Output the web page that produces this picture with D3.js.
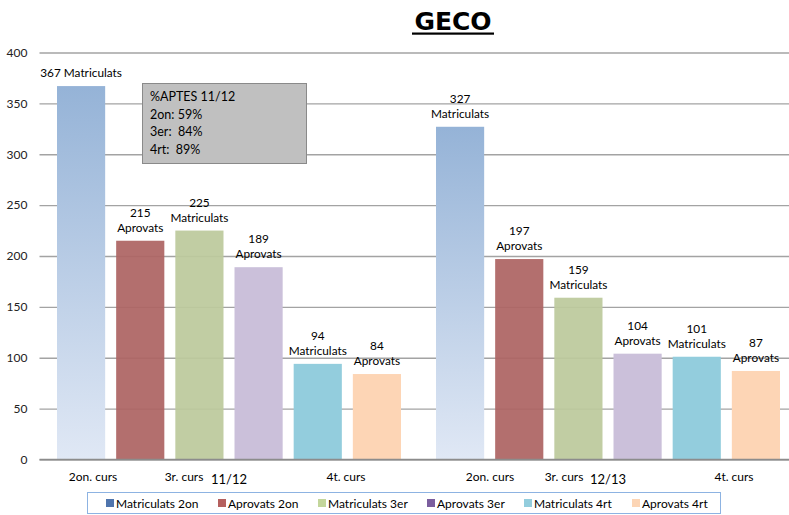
<!DOCTYPE html>
<html>
<head>
<meta charset="utf-8">
<script src="https://cdn.jsdelivr.net/npm/d3@7"></script>
<style>
  body { margin: 0; background: #fff; }
  text { font-family: Lato, "Liberation Sans", sans-serif; }
</style>
</head>
<body>
<div id="graph"></div>
<script>
// data
const categories = ["11/12", "12/13"];
const series = ["Matriculats 2on", "Aprovats 2on", "Matriculats 3er", "Aprovats 3er", "Matriculats 4rt", "Aprovats 4rt"];
const values1112 = [367, 215, 225, 189, 94, 84];
const values1213 = [327, 197, 159, 104, 101, 87];
const courseLabels = ["2on. curs", "3r. curs", "4t. curs"];
const yTicks = [0, 50, 100, 150, 200, 250, 300, 350, 400];
const noteLines = ["%APTES 11/12", "2on: 59%", "3er:  84%", "4rt:  89%"];

const barColors = ["url(#blueGrad)", "#ad6463", "#bcc99c", "#cbc0da", "#93cddd", "#fdd5b5"];
const legendColors = ["#4f75ad", "#b5605e", "#c3d69b", "#7b5e9e", "#93cddd", "#fcd5b5"];

const width = 789, height = 515;
const plot = {left: 39.5, right: 797.5, top: 52.5, bottom: 459.5};

const svg = d3.select("#graph")
    .append("svg")
    .attr("width", width)
    .attr("height", height);

const defs = svg.append("defs");
const grad = defs.append("linearGradient")
    .attr("id", "blueGrad")
    .attr("x1", 0).attr("y1", 0).attr("x2", 0).attr("y2", 1);
grad.append("stop").attr("offset", "0%").attr("stop-color", "#95b3d7");
grad.append("stop").attr("offset", "100%").attr("stop-color", "#e0e8f5");

const y = d3.scaleLinear()
    .domain([0, 400])
    .range([plot.bottom, plot.top]);

const x0 = d3.scaleBand()
    .domain(categories)
    .range([plot.left, plot.right]);

const x1 = d3.scaleBand()
    .domain(series)
    .range([17.5, x0.bandwidth() - 17.5])
    .paddingInner(0.186)
    .paddingOuter(0);

// gridlines
const yAxis = svg.append("g")
    .attr("transform", "translate(" + plot.left + ",0)")
    .call(d3.axisLeft(y).tickValues(yTicks).tickSize(-(width - plot.left)).tickPadding(12));
yAxis.select(".domain").remove();
yAxis.selectAll(".tick line")
    .attr("stroke", "#a3a3a3")
    .attr("stroke-width", 1.3);
yAxis.selectAll(".tick text")
    .style("font-size", "12px")
    .attr("fill", "#222");

const data = [values1112, values1213];

// bars
const groups = svg.selectAll(".grp")
    .data(categories)
    .enter().append("g")
    .attr("class", "grp")
    .attr("transform", function(d) { return "translate(" + x0(d) + ",0)"; });

groups.selectAll("rect")
    .data(function(d, c) { return data[c].map(function(v, i) { return {s: series[i], v: v, i: i}; }); })
    .enter().append("rect")
    .attr("x", function(d) { return x1(d.s); })
    .attr("width", x1.bandwidth())
    .attr("y", function(d) { return y(d.v); })
    .attr("height", function(d) { return y(0) - y(d.v); })
    .attr("fill", function(d) { return barColors[d.i]; })
    .attr("fill-opacity", function(d) { return (d.i === 1 || d.i === 2) ? 0.93 : 1; });

// axis line at zero
svg.append("line")
    .attr("x1", plot.left).attr("x2", width)
    .attr("y1", y(0)).attr("y2", y(0))
    .attr("stroke", "#8c8c8c")
    .attr("stroke-width", 1.5);

// data labels
groups.each(function(cat, c) {
    const g = d3.select(this);
    data[c].forEach(function(v, i) {
        const cx = x1(series[i]) + x1.bandwidth() / 2;
        const word = series[i].split(" ")[0];
        if (c === 0 && i === 0) {
            g.append("text").attr("x", cx).attr("y", y(v) - 9)
                .attr("text-anchor", "middle").style("font-size", "11.8px")
                .text(v + " " + word);
        } else {
            g.append("text").attr("x", cx).attr("y", y(v) - 24)
                .attr("text-anchor", "middle").style("font-size", "11.8px")
                .text(v);
            g.append("text").attr("x", cx).attr("y", y(v) - 9)
                .attr("text-anchor", "middle").style("font-size", "11.8px")
                .text(word);
        }
    });
});

// category labels (hand placed text boxes in the original)
const courseOffsets = [[53.5, 144.5, 306.5], [71.5, 145.5, 315.5]];
categories.forEach(function(cat, c) {
    courseLabels.forEach(function(l, k) {
        svg.append("text")
            .attr("x", x0(cat) + courseOffsets[c][k])
            .attr("y", 481)
            .attr("text-anchor", "middle")
            .style("font-size", "12px")
            .text(l);
    });
    svg.append("text")
        .attr("x", x0(cat) + x0.bandwidth() / 2)
        .attr("y", 484)
        .attr("text-anchor", "middle")
        .style("font-size", "13px")
        .text(cat);
});

// note box
svg.append("rect")
    .attr("x", 142.5).attr("y", 83.5)
    .attr("width", 164).attr("height", 80)
    .attr("fill", "#c0c0c0")
    .attr("stroke", "#8a8a8a");
noteLines.forEach(function(l, k) {
    svg.append("text")
        .attr("x", 150)
        .attr("y", 101 + k * 17.5)
        .style("font-size", "12.5px")
        .style("white-space", "pre")
        .attr("xml:space", "preserve")
        .text(l);
});

// title
svg.append("text")
    .attr("x", 453)
    .attr("y", 30)
    .attr("text-anchor", "middle")
    .style("font-family", "'DejaVu Sans', sans-serif")
    .style("font-weight", "bold")
    .style("font-size", "25px")
    .text("GECO");
svg.append("rect")
    .attr("x", 412).attr("y", 32.5)
    .attr("width", 82).attr("height", 2.2)
    .attr("fill", "#000");

// legend
svg.append("rect")
    .attr("x", 87.5).attr("y", 492.5)
    .attr("width", 633).attr("height", 21)
    .attr("fill", "#fff")
    .attr("stroke", "#8db3e2");
const legendX = [106, 218, 318, 427, 524, 632];
series.forEach(function(s, i) {
    svg.append("rect")
        .attr("x", legendX[i]).attr("y", 499)
        .attr("width", 8).attr("height", 8)
        .attr("fill", legendColors[i]);
    svg.append("text")
        .attr("x", legendX[i] + 10)
        .attr("y", 507.5)
        .style("font-size", "12px")
        .text(s);
});
</script>
</body>
</html>
